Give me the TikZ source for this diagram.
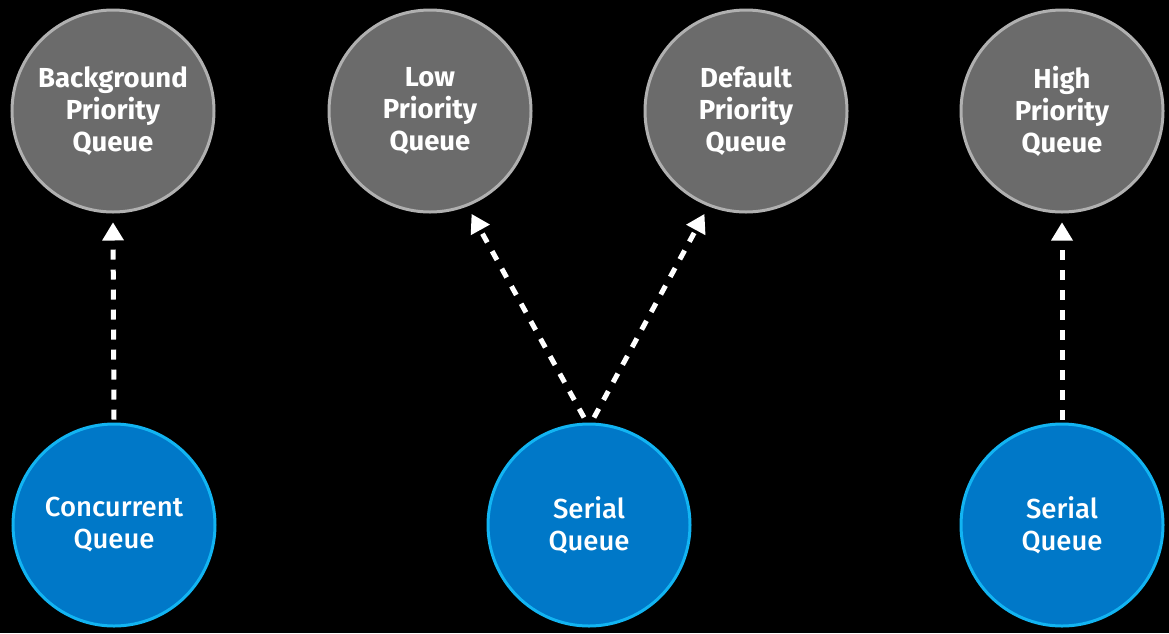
\documentclass[tikz,border=0pt]{standalone}
\usepackage{fontspec}
\setmainfont{Fira Sans}[UprightFont=* Medium, BoldFont=* Bold]
\usetikzlibrary{arrows.meta,calc}
\definecolor{qgray}{HTML}{6B6B6B}
\definecolor{qgrayedge}{HTML}{B0B0B0}
\definecolor{qblue}{HTML}{0078C8}
\definecolor{qblueedge}{HTML}{12B4F2}
\tikzset{
  prio/.style={circle, fill=qgray, draw=qgrayedge, line width=3pt,
    minimum size=202pt, inner sep=0pt, text=white, align=center,
    font=\fontsize{27.5}{32}\selectfont\bfseries},
  work/.style={circle, fill=qblue, draw=qblueedge, line width=3pt,
    minimum size=202pt, inner sep=0pt, text=white, align=center,
    font=\fontsize{27.5}{32}\selectfont},
  target/.style={white, line width=5pt, dash pattern=on 10pt off 10pt,
    -{Triangle[length=18pt,width=22pt,line width=0pt]}}
}
\begin{document}
\begin{tikzpicture}[x=1pt,y=-1pt]
  \fill[black] (0,0) rectangle (1169,633);
  \useasboundingbox (0,0) rectangle (1169,633);
  % global priority queues
  \node[prio] (bg)   at (113,111)  {Background\\Priority\\Queue};
  \node[prio] (low)  at (430,111)  {Low\\Priority\\Queue};
  \node[prio] (def)  at (746,111)  {Default\\Priority\\Queue};
  \node[prio] (high) at (1062,111) {High\\Priority\\Queue};
  % private queues
  \node[work] (conc) at (114,525)  {Concurrent\\Queue};
  \node[work] (ser1) at (589,525)  {Serial\\Queue};
  \node[work] (ser2) at (1062,525) {Serial\\Queue};
  % target links
  \coordinate (s1) at ([yshift=3pt]conc.north);
  \coordinate (s2a) at ([xshift=-5pt,yshift=5pt]ser1.north);
  \coordinate (s2b) at ([xshift=5pt,yshift=5pt]ser1.north);
  \coordinate (s3) at ([yshift=3pt]ser2.north);
  \draw[target] (s1) -- ([yshift=-9pt]bg.south);
  \draw[target] (s2a) -- ($(low.center)!1.085!(low.-68)$);
  \draw[target] (s2b) -- ($(def.center)!1.085!(def.-112)$);
  \draw[target] (s3) -- ([yshift=-9pt]high.south);
\end{tikzpicture}
\end{document}
